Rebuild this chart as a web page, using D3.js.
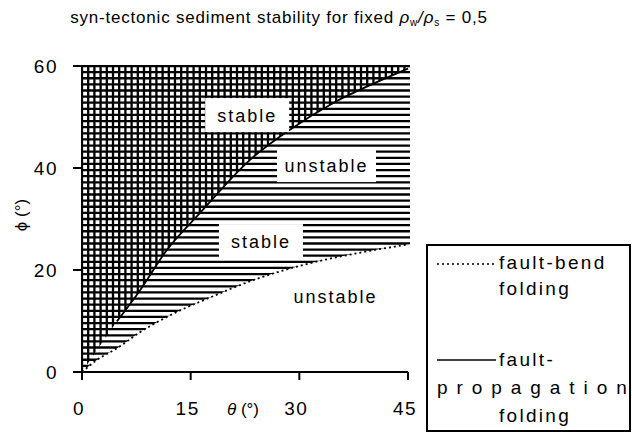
<!DOCTYPE html>
<html><head><meta charset="utf-8">
<script src="https://cdn.jsdelivr.net/npm/d3@7"></script>
<style>
html,body{margin:0;padding:0;background:#fff;}
text{font-family:"Liberation Sans",Arial,sans-serif;fill:#000;}
</style></head>
<body><svg id="c" width="632" height="432"></svg>
<script>
// ---- data ----
const fpfTheta = [0, 2.5, 4.8, 8, 11.7, 16.3, 23.2, 28.7, 35, 40, 45];
const fpfPhi   = [0, 5.2, 9.9, 16, 23.9, 31.2, 41.6, 47.5, 53, 56.4, 59.5];
const fbfTheta = [0, 2, 5, 8, 12, 18, 24, 30, 38, 45];
const fbfPhi   = [0, 2.3, 4.8, 7.8, 11, 14.8, 18.2, 20.8, 23.3, 25];
const xTicks = [0, 15, 30, 45];
const yTicks = [0, 20, 40, 60];
const regionLabels = ["stable", "unstable", "stable", "unstable"];
const regionTheta  = [22.8, 33.75, 24.7, 35];
const regionPhi    = [49, 39.2, 24.3, 13.5];
const legendLabels = [["fault-bend", "folding"], ["fault-", "propagation", "folding"]];

const svg = d3.select("#c");
const x = d3.scaleLinear().domain([0, 45]).range([82, 408]);
const y = d3.scaleLinear().domain([0, 60]).range([372, 66]);

const fpf = fpfTheta.map((t, i) => [t, fpfPhi[i]]);
const fbf = fbfTheta.map((t, i) => [t, fbfPhi[i]]);
const line = d3.line().x(d => x(d[0])).y(d => y(d[1])).curve(d3.curveMonotoneX);
const poly = d3.line().x(d => x(d[0])).y(d => y(d[1])).curve(d3.curveMonotoneX);

const defs = svg.append("defs");
defs.append("clipPath").attr("id", "clipSolid").append("path")
  .attr("d", poly([...fpf]) + "L" + x(45) + "," + y(60) + "L" + x(0) + "," + y(60) + "Z");
defs.append("clipPath").attr("id", "clipDash").append("path")
  .attr("d", poly([...fbf]) + "L" + (x(45) + 3) + "," + y(25) + "L" + (x(45) + 3) + "," + y(60) + "L" + x(0) + "," + y(60) + "Z");

// horizontal hatch (above dashed curve)
const hStep = (y(0) - y(60)) / 50;
const hg = svg.append("g").attr("clip-path", "url(#clipDash)");
d3.range(0, 51).forEach(i => {
  const yy = y(60) + i * hStep;
  hg.append("line").attr("x1", x(0)).attr("x2", x(45) + 2)
    .attr("y1", yy).attr("y2", yy).attr("stroke", "#000").attr("stroke-width", 2.3);
});
// vertical hatch (above solid curve)
const vStep = 6.2;
const vg = svg.append("g").attr("clip-path", "url(#clipSolid)");
for (let xx = x(0); xx <= x(45); xx += vStep) {
  vg.append("line").attr("x1", xx).attr("x2", xx)
    .attr("y1", y(60)).attr("y2", y(0)).attr("stroke", "#000").attr("stroke-width", 2.3);
}

// curves
svg.append("path").datum(fpf.slice(2)).attr("d", line)
  .attr("fill", "none").attr("stroke", "#000").attr("stroke-width", 1.8);
svg.append("path").datum(fbf).attr("d", line)
  .attr("fill", "none").attr("stroke", "#000").attr("stroke-width", 1.8)
  .attr("stroke-dasharray", "2,3");

// region labels
const boxW = { "stable": 84, "unstable": 99 };
regionLabels.forEach((lab, i) => {
  const cx = x(regionTheta[i]), by = y(regionPhi[i]);
  if (i < 3) {
    svg.append("rect").attr("x", cx - boxW[lab] / 2).attr("y", by - 24)
      .attr("width", boxW[lab]).attr("height", 34).attr("fill", "#fff");
  }
  svg.append("text").attr("x", cx).attr("y", by).attr("text-anchor", "middle")
    .attr("font-size", 18).attr("letter-spacing", 2).text(lab);
});

// axes
const ax = svg.append("g").attr("stroke", "#000");
ax.append("line").attr("x1", 73).attr("x2", x(45)).attr("y1", y(0)).attr("y2", y(0)).attr("stroke-width", 2);
ax.append("line").attr("x1", 73).attr("x2", x(45) + 2).attr("y1", y(60)).attr("y2", y(60)).attr("stroke-width", 2);
ax.append("line").attr("x1", x(0)).attr("x2", x(0)).attr("y1", y(60)).attr("y2", y(0) + 8).attr("stroke-width", 2);
yTicks.forEach(t => {
  ax.append("line").attr("x1", 73).attr("x2", x(0)).attr("y1", y(t)).attr("y2", y(t)).attr("stroke-width", 2);
  svg.append("text").attr("x", 58).attr("y", y(t) + 7).attr("text-anchor", "end")
    .attr("font-size", 19).attr("letter-spacing", 1.5).text(t);
});
xTicks.forEach(t => {
  ax.append("line").attr("x1", x(t)).attr("x2", x(t)).attr("y1", y(0)).attr("y2", y(0) + 8).attr("stroke-width", 2);
  svg.append("text").attr("x", x(t) - 3).attr("y", 415).attr("text-anchor", "middle")
    .attr("font-size", 19).attr("letter-spacing", 1.5).text(t);
});
// axis titles
const xt = svg.append("text").attr("x", 243).attr("y", 415).attr("text-anchor", "middle").attr("font-size", 17);
xt.append("tspan").attr("font-style", "italic").text("θ");
xt.append("tspan").text(" (°)");
const yt = svg.append("text").attr("transform", "translate(27,215) rotate(-90)")
  .attr("text-anchor", "middle").attr("font-size", 17);
yt.append("tspan").text("ϕ");
yt.append("tspan").text(" (°)");

// title
const tt = svg.append("text").attr("x", 279).attr("y", 23).attr("text-anchor", "middle")
  .attr("font-size", 17).attr("letter-spacing", 0.8);
tt.append("tspan").text("syn-tectonic sediment stability for fixed ");
tt.append("tspan").attr("font-style", "italic").text("ρ");
tt.append("tspan").attr("font-size", 10).attr("dy", 3).text("w");
tt.append("tspan").attr("dy", -3).attr("font-style", "italic").text("/ρ");
tt.append("tspan").attr("font-size", 10).attr("dy", 3).text("s");
tt.append("tspan").attr("dy", -3).text(" = 0,5");

// legend
const lg = svg.append("g");
lg.append("rect").attr("x", 427).attr("y", 245).attr("width", 203).attr("height", 186)
  .attr("fill", "#fff").attr("stroke", "#000").attr("stroke-width", 2);
lg.append("line").attr("x1", 437).attr("x2", 496).attr("y1", 264).attr("y2", 264)
  .attr("stroke", "#000").attr("stroke-width", 1.6).attr("stroke-dasharray", "2,3");
lg.append("line").attr("x1", 437).attr("x2", 496).attr("y1", 360).attr("y2", 360)
  .attr("stroke", "#000").attr("stroke-width", 1.6);
const lys = [[269, 295], [366, 394, 422]];
legendLabels.forEach((lines, i) => {
  lines.forEach((s, j) => {
    const t = lg.append("text").attr("y", lys[i][j]).attr("font-size", 19)
      .attr("letter-spacing", 2.3).text(s);
    if (s === "propagation") {
      t.attr("x", 437).attr("textLength", 192).attr("lengthAdjust", "spacing");
    } else {
      t.attr("x", 499);
    }
  });
});
</script></body></html>
